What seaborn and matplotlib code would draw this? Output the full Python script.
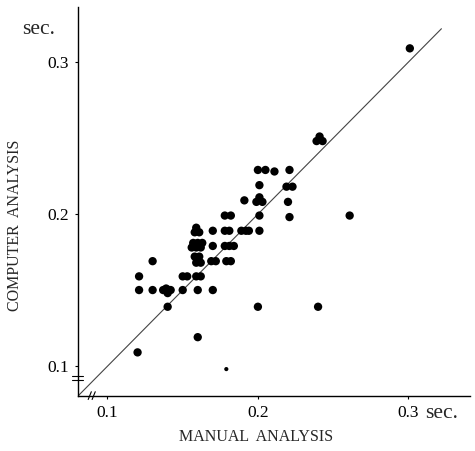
import matplotlib
matplotlib.use("Agg")
import matplotlib.pyplot as plt
import seaborn as sns
import pandas as pd

# Manual vs computer analysis (seconds)
manual = [
    0.301,
    0.239, 0.241, 0.243,
    0.200, 0.205, 0.211, 0.221,
    0.201, 0.219, 0.223,
    0.191, 0.199, 0.201, 0.203, 0.220,
    0.178, 0.182, 0.201, 0.221, 0.261,
    0.170, 0.178, 0.181, 0.189, 0.192, 0.194, 0.201, 0.158, 0.159, 0.161,
    0.157, 0.160, 0.163, 0.156, 0.159, 0.162, 0.170, 0.178, 0.181, 0.184,
    0.158, 0.161, 0.159, 0.162, 0.169, 0.172, 0.179, 0.182, 0.130,
    0.121, 0.150, 0.153, 0.159, 0.162,
    0.121, 0.130, 0.137, 0.139, 0.141, 0.140, 0.142, 0.150, 0.160, 0.170,
    0.140,
    0.200, 0.240,
    0.120, 0.160,
]
computer = [
    0.309,
    0.248, 0.251, 0.248,
    0.229, 0.229, 0.228, 0.229,
    0.219, 0.218, 0.218,
    0.209, 0.208, 0.211, 0.208, 0.208,
    0.199, 0.199, 0.199, 0.198, 0.199,
    0.189, 0.189, 0.189, 0.189, 0.189, 0.189, 0.189, 0.188, 0.191, 0.188,
    0.181, 0.181, 0.181, 0.178, 0.178, 0.178, 0.179, 0.179, 0.179, 0.179,
    0.172, 0.172, 0.168, 0.168, 0.169, 0.169, 0.169, 0.169, 0.169,
    0.159, 0.159, 0.159, 0.159, 0.159,
    0.150, 0.150, 0.150, 0.151, 0.150, 0.148, 0.150, 0.150, 0.150, 0.150,
    0.139,
    0.139, 0.139,
    0.109, 0.119,
]
small_manual = [0.179]
small_computer = [0.098]

tick_values = [0.1, 0.2, 0.3]
tick_labels = ["0.1", "0.2", "0.3"]
x_label = "MANUAL  ANALYSIS"
y_label = "COMPUTER  ANALYSIS"
unit = "sec."

sns.set_style("ticks")
plt.rcParams['font.family'] = ['Liberation Serif', 'DejaVu Serif']

W, H = 475, 451
fig = plt.figure(figsize=(W / 100, H / 100), dpi=100)
ax = fig.add_axes([78 / W, 55 / H, (470 - 78) / W, (396 - 7) / H])

df = pd.DataFrame({"manual": manual, "computer": computer})
sns.scatterplot(data=df, x="manual", y="computer", ax=ax, color="black",
                s=36, edgecolor="none", linewidth=0, zorder=3)
df_small = pd.DataFrame({"manual": small_manual, "computer": small_computer})
sns.scatterplot(data=df_small, x="manual", y="computer", ax=ax, color="black",
                s=9, edgecolor="none", linewidth=0, zorder=3)

x0, y0 = 0.0804, 0.0803
ax.set_xlim(x0, 0.341)
ax.set_ylim(y0, 0.3362)

# identity line
ax.plot([x0, 0.322], [y0, 0.322 - (x0 - y0)], color="#444444", lw=0.8, zorder=2)

for side in ["top", "right"]:
    ax.spines[side].set_visible(False)
for side in ["left", "bottom"]:
    ax.spines[side].set_linewidth(1.0)
    ax.spines[side].set_color("black")

ax.set_xticks(tick_values)
ax.set_xticklabels(tick_labels)
ax.set_yticks(tick_values)
ax.set_yticklabels(tick_labels)
ax.tick_params(axis="both", direction="out", length=2.5, width=0.8,
               labelsize=12.5, colors="black")
ax.tick_params(axis="x", pad=4)
ax.tick_params(axis="y", pad=4)
ax.set_xlabel("")
ax.set_ylabel("")

# axis break marks
ax.plot([-0.016, 0.012], [0.052, 0.052], transform=ax.transAxes,
        color="black", lw=0.8, clip_on=False)
ax.plot([-0.016, 0.012], [0.042, 0.042], transform=ax.transAxes,
        color="black", lw=0.8, clip_on=False)
ax.plot([0.026, 0.034], [-0.009, 0.011], transform=ax.transAxes,
        color="black", lw=0.8, clip_on=False)
ax.plot([0.036, 0.044], [-0.009, 0.011], transform=ax.transAxes,
        color="black", lw=0.8, clip_on=False)

fig.text(256 / W, 1 - 437 / H, x_label, ha="center", va="center", fontsize=11.5)
fig.text(15 / W, 1 - 225 / H, y_label, ha="center", va="center",
         rotation=90, fontsize=11.5)
fig.text(425 / W, 1 - 418 / H, unit, ha="left", va="baseline", fontsize=15.5)
fig.text(22 / W, 1 - 34 / H, unit, ha="left", va="baseline", fontsize=15.5)

fig.savefig("out.png", dpi=100)
